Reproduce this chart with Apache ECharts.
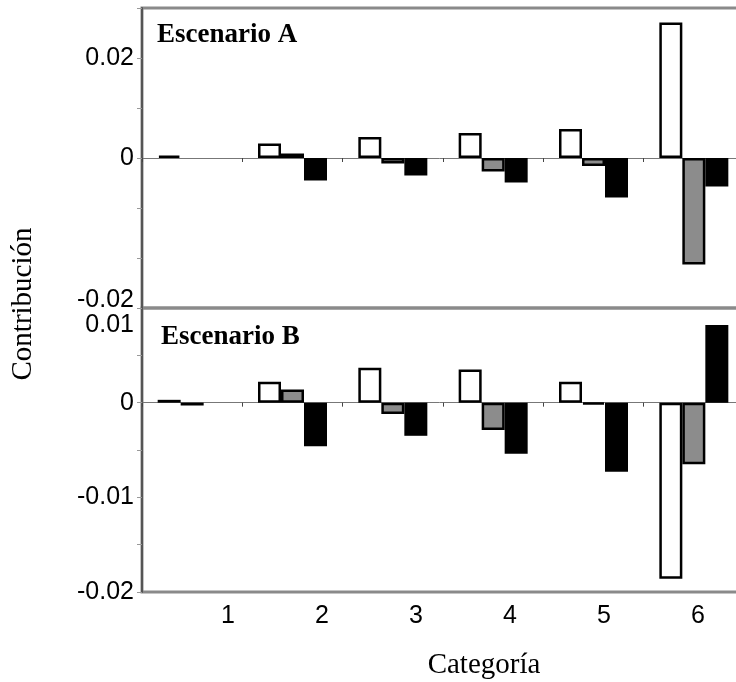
<!DOCTYPE html>
<html>
<head>
<meta charset="utf-8">
<script src="https://cdn.jsdelivr.net/npm/echarts@6/dist/echarts.min.js"></script>
<style>
  html, body { margin: 0; padding: 0; background: #fff; }
  #chart1 { width: 736px; height: 682px; }
</style>
</head>
<body>
<div id="chart1"></div>
<script>
// data
const categories = ['1', '2', '3', '4', '5', '6'];
// Escenario A (top panel)
const escA_white = [0.0005, 0.0029, 0.0042, 0.0050, 0.0058, 0.0271];
const escA_gray = [null, 0.0009, -0.0011, -0.0027, -0.0016, -0.0213];
const escA_black = [null, -0.0045, -0.0035, -0.0049, -0.0079, -0.0057];
// Escenario B (bottom panel)
const escB_white = [0.0003, 0.0022, 0.0037, 0.0035, 0.0022, -0.0186];
const escB_gray = [-0.0003, 0.0014, -0.0012, -0.0029, -0.0002, -0.0065];
const escB_black = [null, -0.0046, -0.0035, -0.0054, -0.0073, 0.0082];
// tick labels
const labelsA = { '20': '0.02', '0': '0', '-30': '{lo|-0.02}' };   // the bottom tick carries "-0.02" in the figure
const labelsB = { '10': '{hi|0.01}', '0': '0', '-10': '-0.01', '-20': '-0.02' };

const serif = 'Liberation Serif';
const sans = 'Liberation Sans';

function fmtA(v) {
    let k = String(Math.round(v * 1000));
    return labelsA[k] || '';
}
function fmtB(v) {
    let k = String(Math.round(v * 1000));
    return labelsB[k] || '';
}

function yAxisPanel(idx, min, max, interval, fmt) {
    return {
        gridIndex: idx,
        type: 'value',
        min: min,
        max: max,
        interval: interval,
        axisLine: { show: true, lineStyle: { color: '#555', width: 2 } },
        axisTick: { show: true, length: 5, lineStyle: { color: '#999' } },
        axisLabel: {
            fontFamily: sans,
            fontSize: 25,
            color: '#000',
            margin: 8,
            formatter: fmt,
            rich: {
                lo: { fontFamily: sans, fontSize: 25, color: '#000', padding: [0, 0, 16, 0] },
                hi: { fontFamily: sans, fontSize: 25, color: '#000', padding: [34, 0, 0, 0] }
            }
        },
        splitLine: { show: false }
    };
}

function xAxisPanel(idx) {
    return {
        gridIndex: idx,
        type: 'category',
        data: categories,
        position: 'bottom',
        axisLine: { onZero: true, lineStyle: { color: '#777', width: 1 } },
        axisTick: { show: true, length: 4, lineStyle: { color: '#444' } },
        axisLabel: { show: false }
    };
}

function barSeries(axisIdx, data, fill, border) {
    return {
        type: 'bar',
        xAxisIndex: axisIdx,
        yAxisIndex: axisIdx,
        data: data,
        barWidth: 23,
        barGap: '0%',
        itemStyle: {
            color: fill,
            borderColor: '#000',
            borderWidth: border
        }
    };
}

let dom1 = document.getElementById('chart1');
let Chart1 = echarts.init(dom1, null, { renderer: 'canvas' });

let option1 = {
    animation: false,
    backgroundColor: '#fff',
    grid: [
        { left: 142, top: 8, width: 602, height: 300, show: true, borderColor: '#8a8a8a', borderWidth: 3, outerBoundsMode: 'none', containLabel: false },
        { left: 142, top: 308, width: 602, height: 284, show: true, borderColor: '#8a8a8a', borderWidth: 3, outerBoundsMode: 'none', containLabel: false },
        { left: 181, top: 591, width: 564, height: 1, outerBoundsMode: 'none', containLabel: false }
    ],
    xAxis: [
        xAxisPanel(0),
        xAxisPanel(1),
        {
            gridIndex: 2,
            type: 'category',
            data: categories,
            position: 'bottom',
            axisLine: { show: false },
            axisTick: { show: false },
            axisLabel: { fontFamily: sans, fontSize: 25, color: '#000', margin: 12 }
        }
    ],
    yAxis: [
        yAxisPanel(0, -0.03, 0.03, 0.01, fmtA),
        yAxisPanel(1, -0.02, 0.01, 0.005, fmtB),
        { gridIndex: 2, type: 'value', show: false }
    ],
    graphic: [
        {
            type: 'text', x: 157, y: 35,
            style: { text: 'Escenario A', font: 'bold 27px "Liberation Serif"', fill: '#000', textVerticalAlign: 'middle' }
        },
        {
            type: 'text', x: 161, y: 337,
            style: { text: 'Escenario B', font: 'bold 27px "Liberation Serif"', fill: '#000', textVerticalAlign: 'middle' }
        },
        {
            type: 'text', x: 23, y: 304, rotation: Math.PI / 2,
            style: { text: 'Contribución', font: '29px "Liberation Serif"', fill: '#000', textAlign: 'center', textVerticalAlign: 'middle' }
        },
        {
            type: 'text', x: 484, y: 665,
            style: { text: 'Categoría', font: '29px "Liberation Serif"', fill: '#000', textAlign: 'center', textVerticalAlign: 'middle' }
        }
    ],
    series: [
        barSeries(0, escA_white, '#fff', 2.5),
        barSeries(0, escA_gray, '#8c8c8c', 2.5),
        barSeries(0, escA_black, '#000', 0),
        barSeries(1, escB_white, '#fff', 2.5),
        barSeries(1, escB_gray, '#8c8c8c', 2.5),
        barSeries(1, escB_black, '#000', 0)
    ]
};

Chart1.setOption(option1);
</script>
</body>
</html>
